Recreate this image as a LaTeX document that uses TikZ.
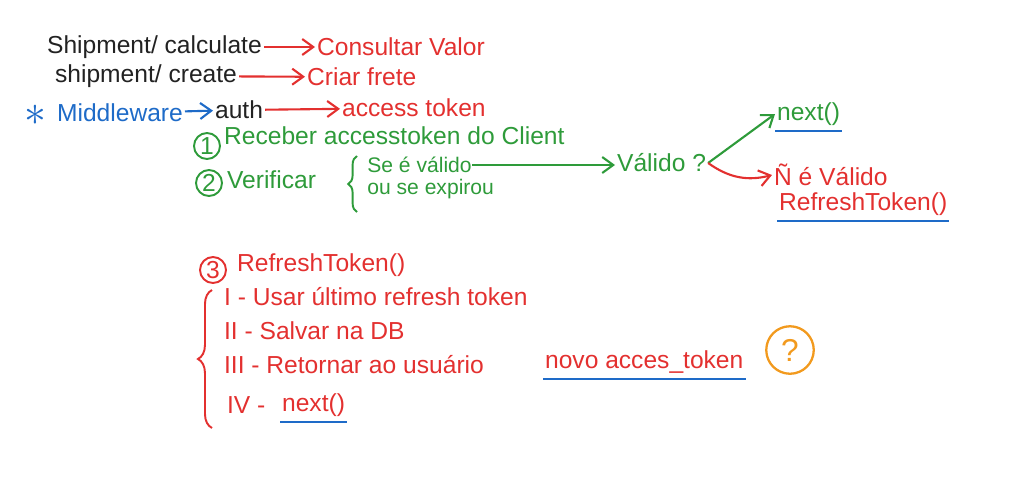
\documentclass[tikz,border=0pt]{standalone}
\usepackage{fontspec}
\setmainfont{Liberation Sans}
\usetikzlibrary{arrows.meta,decorations.pathreplacing}
\definecolor{inkblack}{HTML}{222222}
\definecolor{inkred}{HTML}{E3302F}
\definecolor{inkgreen}{HTML}{2E9B3A}
\definecolor{inkblue}{HTML}{1E6BC8}
\definecolor{inkorange}{HTML}{F29A1E}
\tikzset{
  note/.style={anchor=west, inner sep=1pt, font=\fontsize{14}{16}\selectfont},
  small/.style={anchor=west, inner sep=0pt, font=\fontsize{12}{13}\selectfont},
  pen/.style={line width=1.2pt, -{Straight Barb[length=2.2mm,width=3.2mm]}},
  num/.style={draw, circle, line width=1.1pt, minimum size=0.52cm, inner sep=0pt, font=\fontsize{14}{16}\selectfont},
  uline/.style={inkblue, line width=1.3pt},
  curly/.style={decorate, decoration={brace, amplitude=#1}, line width=1.1pt},
}

\begin{document}
\begin{tikzpicture}[x=0.02cm, y=-0.02cm]
    \useasboundingbox (0,0) rectangle (1026,484);
    \node[note, inkblack] (calc) at (45, 47) {Shipment/ calculate};
    \node[note, inkred] (cons) at (315, 47) {Consultar Valor};
    \node[note, inkblack] (crea) at (53, 76) {shipment/ create};
    \node[note, inkred] (frete) at (305, 77) {Criar frete};
    \node[inkblue, inner sep=0pt, font=\fontsize{26}{26}\selectfont] (star) at (35, 115) {$\ast$};
    \node[note, inkblue] (mid) at (55, 113) {Middleware};
    \node[note, inkblack] (auth) at (213, 110) {auth};
    \node[note, inkred] (tok) at (340, 108) {access token};
    \node[num, inkgreen] (one) at (207, 146) {1};
    \node[note, inkgreen] (rec) at (222, 136) {Receber accesstoken do Client};
    \node[num, inkgreen] (two) at (209, 183) {2};
    \node[note, inkgreen] (ver) at (225, 180) {Verificar};
    \node[small, inkgreen] (se) at (367, 165) {Se é válido};
    \node[small, inkgreen] (ou) at (367, 189) {ou se expirou};
    \node[note, inkgreen] (valido) at (615, 163) {Válido ?};
    \node[note, inkgreen] (next) at (775, 114) {next()};
    \node[note, inkred] (nao) at (772, 175) {Ñ é Válido};
    \node[note, inkred] (ref) at (777, 204) {RefreshToken()};
    \node[num, inkred] (three) at (213, 270) {3};
    \node[note, inkred] (reft) at (235, 265) {RefreshToken()};
    \node[note, inkred] (s1) at (222, 297) {I - Usar último refresh token};
    \node[note, inkred] (s2) at (222, 331) {II - Salvar na DB};
    \node[note, inkred] (s3) at (222, 365) {III - Retornar ao usuário};
    \node[note, inkred] (novo) at (543, 362) {novo acces\_token};
    \node[draw, circle, inkorange, line width=1.3pt, minimum size=0.95cm, font=\fontsize{18}{18}\selectfont] (ask) at (790, 350) {?};
    \node[note, inkred] (s4) at (225, 405) {IV -};
    \node[note, inkred] (next2) at (280, 405) {next()};
    \coordinate (vb) at (357, 212);
    \coordinate (vt) at (357, 156);
    \coordinate (lb) at (212, 428);
    \coordinate (lt) at (212, 290);
    \draw [pen, inkred] (calc) to node {} (cons);
    \draw [pen, inkred] (crea) to node {} (frete);
    \draw [pen, inkblue] (mid) to node {} (auth);
    \draw [pen, inkred] (auth) to node {} (tok);
    \draw [curly=5pt, inkgreen] (vb) to node {} (vt);
    \draw [pen, inkgreen] (se) to node {} (valido.west |- se);
    \draw [pen, inkgreen] (valido.east) to node {} (next.west);
    \draw [pen, inkred] (valido.east) to[bend right=25] node {} (nao.west);
    \draw [uline] ([yshift=-2pt]next.south west) to node {} ([yshift=-2pt]next.south east);
    \draw [uline] ([yshift=-2pt]ref.south west) to node {} ([yshift=-2pt]ref.south east);
    \draw [curly=8pt, inkred] (lb) to node {} (lt);
    \draw [uline] ([yshift=-2pt]novo.south west) to node {} ([yshift=-2pt]novo.south east);
    \draw [uline] ([yshift=-2pt]next2.south west) to node {} ([yshift=-2pt]next2.south east);
  \end{tikzpicture}
\end{document}
